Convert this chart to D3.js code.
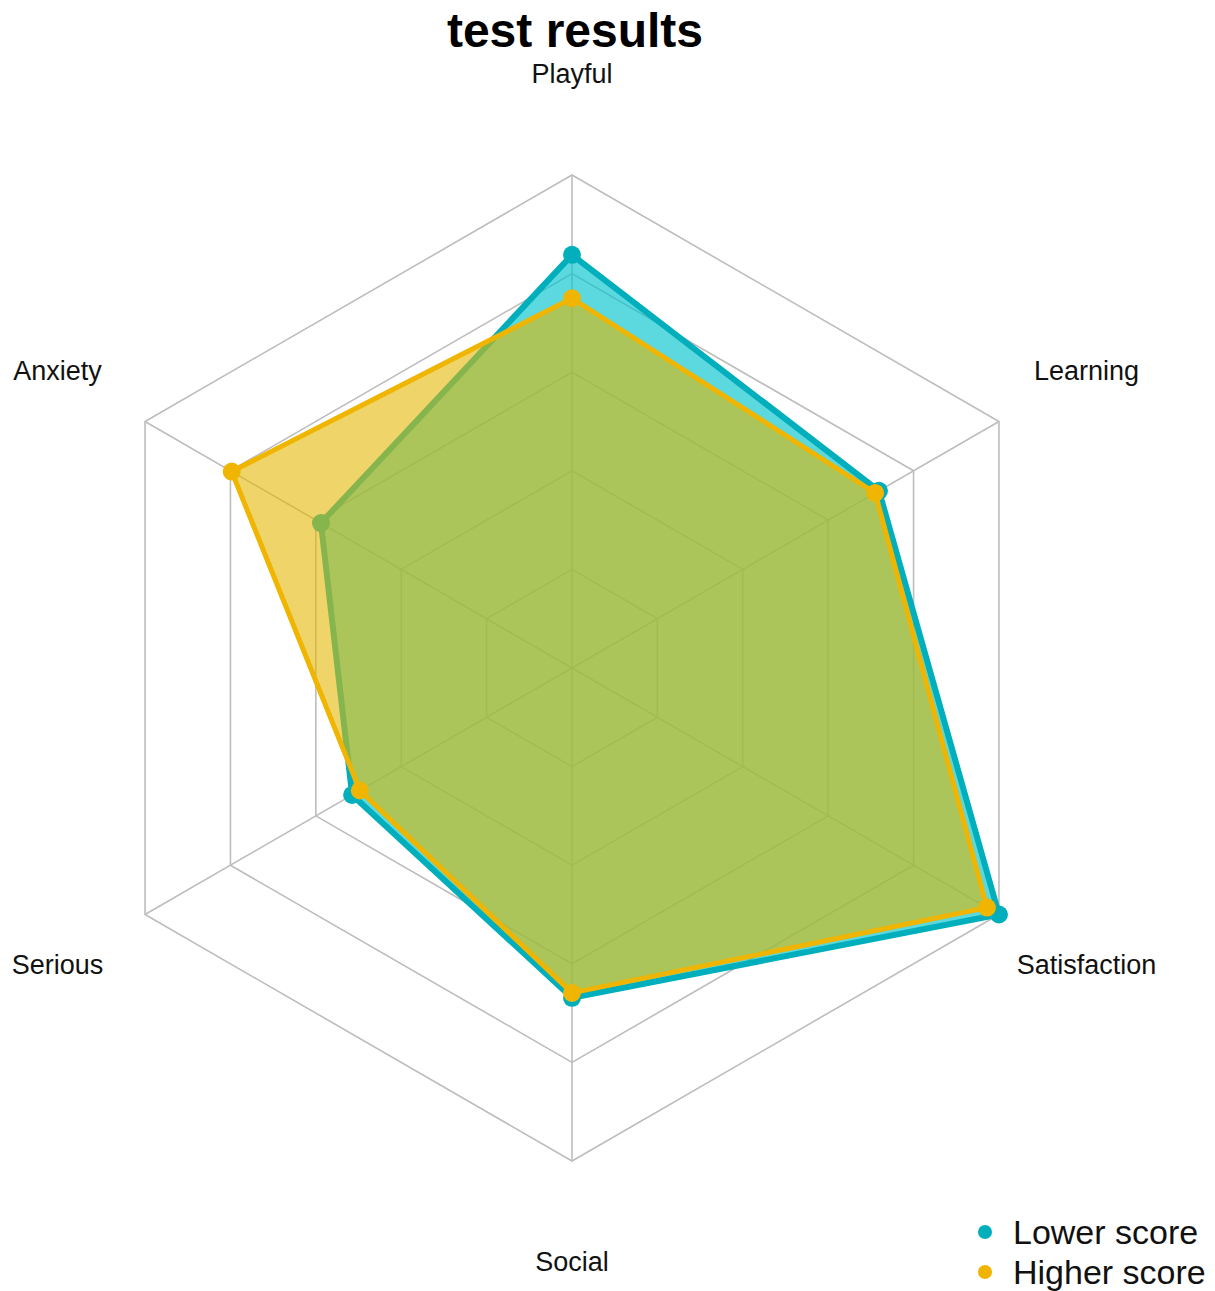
<!DOCTYPE html>
<html>
<head>
<meta charset="utf-8">
<script src="https://cdn.jsdelivr.net/npm/d3@7"></script>
<style>
  body { margin: 0; background: #fff; }
  text { font-family: "Liberation Sans", Arial, sans-serif; }
</style>
</head>
<body>
<div id="chart"></div>
<script>
// Radar chart: test results
const axes = ["Playful", "Learning", "Satisfaction", "Social", "Serious", "Anxiety"];
const seriesNames = ["Lower score", "Higher score"];
const lowerScore = [0.838, 0.719, 1.0, 0.669, 0.515, 0.588];
const higherScore = [0.75, 0.71, 0.972, 0.659, 0.497, 0.797];
const ringLevels = [0.2, 0.4, 0.6, 0.8, 1.0];

const width = 1215;
const height = 1291;
const cx = 572, cy = 668;
const radius = 493;

const colors = ["#00AFBB", "#EFB500"];
const fillColors = ["#00C3CB", "#E4B800"];
const fillOpacity = [0.64, 0.59];

const svg = d3.select("#chart").append("svg")
  .attr("width", width)
  .attr("height", height);

const r = d3.scaleLinear().domain([0, 1]).range([0, radius]);
const angle = d3.scalePoint().domain(axes.concat(["_end"])).range([0, 2 * Math.PI]);

const pt = (a, v) => {
  const t = angle(a);
  return [cx + r(v) * Math.sin(t), cy - r(v) * Math.cos(t)];
};

// grid rings
const grid = svg.append("g");
ringLevels.forEach(lv => {
  grid.append("polygon")
    .attr("points", axes.map(a => pt(a, lv).join(",")).join(" "))
    .attr("fill", "none")
    .attr("stroke", "#BDBDBD")
    .attr("stroke-width", 1.6);
});
axes.forEach(a => {
  const [x, y] = pt(a, 1);
  grid.append("line")
    .attr("x1", cx).attr("y1", cy).attr("x2", x).attr("y2", y)
    .attr("stroke", "#BDBDBD").attr("stroke-width", 1.6);
});

// axis labels
axes.forEach(a => {
  const [x, y] = pt(a, 1.205);
  svg.append("text")
    .attr("x", x).attr("y", y)
    .attr("text-anchor", "middle")
    .attr("dominant-baseline", "central")
    .style("font-size", "27px")
    .style("fill", "#111")
    .text(a);
});

// series
const data = [lowerScore, higherScore];
const widths = [6, 5];
const line = d3.lineRadial()
  .angle((d, i) => angle(axes[i]))
  .radius(d => r(d))
  .curve(d3.curveLinearClosed);

data.forEach((vals, s) => {
  const g = svg.append("g").attr("transform", `translate(${cx},${cy})`);
  g.append("path")
    .attr("d", line(vals))
    .attr("fill", fillColors[s])
    .attr("fill-opacity", fillOpacity[s])
    .attr("stroke", colors[s])
    .attr("stroke-width", widths[s])
    .attr("stroke-linejoin", "round");
  vals.forEach((v, i) => {
    const t = angle(axes[i]);
    g.append("circle")
      .attr("cx", r(v) * Math.sin(t))
      .attr("cy", -r(v) * Math.cos(t))
      .attr("r", 9)
      .attr("fill", colors[s]);
  });
});

// title
svg.append("text")
  .attr("x", 575).attr("y", 47)
  .attr("text-anchor", "middle")
  .style("font-size", "48px")
  .style("font-weight", "bold")
  .text("test results");

// legend
const legend = svg.append("g").attr("transform", "translate(985, 1232)");
seriesNames.forEach((n, i) => {
  const g = legend.append("g").attr("transform", `translate(0, ${i * 40})`);
  g.append("circle").attr("cx", 0).attr("cy", 0).attr("r", 7).attr("fill", colors[i]);
  g.append("text").attr("x", 28).attr("y", 0)
    .attr("dominant-baseline", "central")
    .style("font-size", "34px")
    .style("fill", "#111")
    .text(n);
});
</script>
</body>
</html>
